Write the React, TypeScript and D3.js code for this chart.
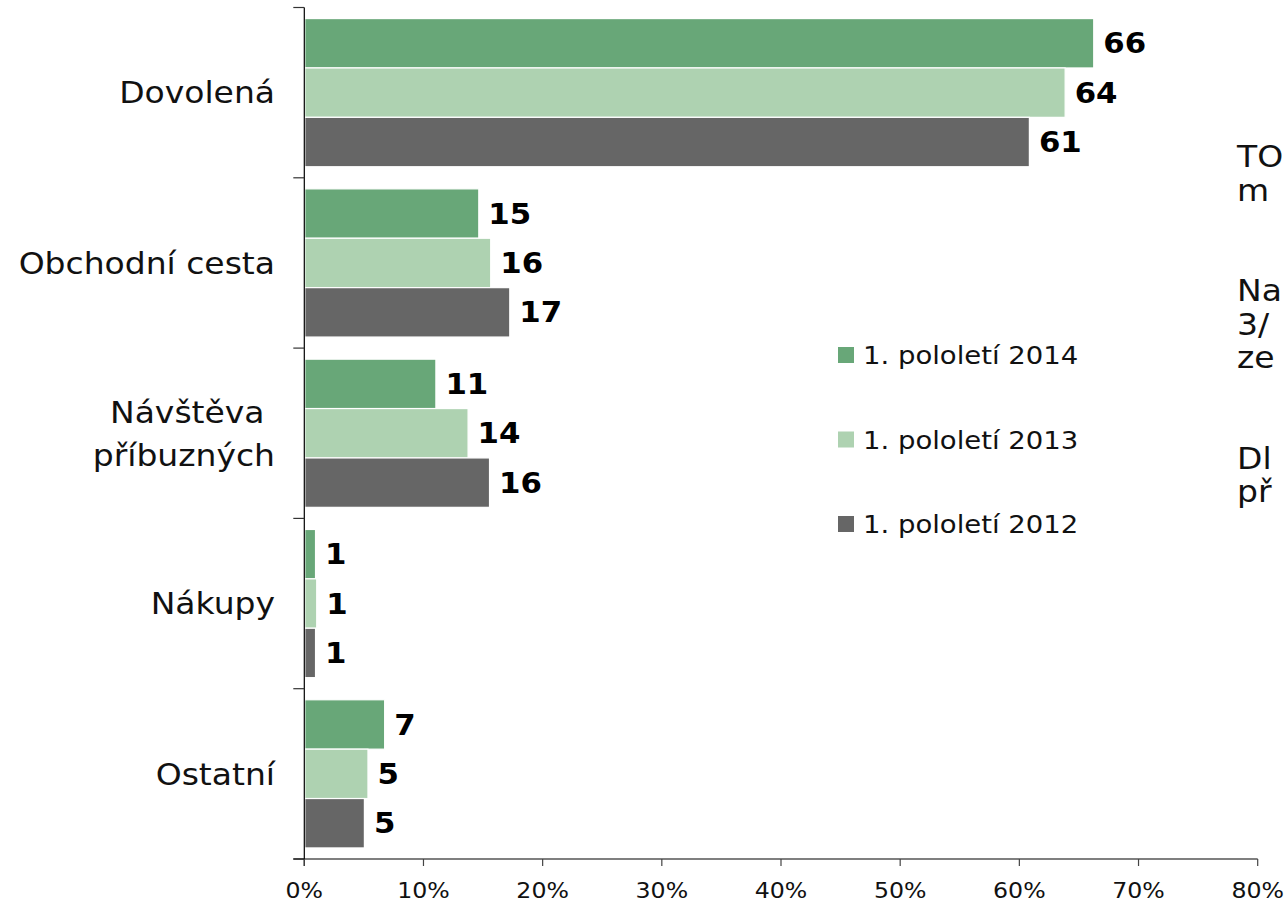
import React, { useRef, useEffect } from "react"
import * as d3 from "d3"

const categories = ["Dovolená", "Obchodní cesta", "Návštěva \npříbuzných", "Nákupy", "Ostatní"]
const series = ["1. pololetí 2014", "1. pololetí 2013", "1. pololetí 2012"]
const colors = ["#68a778", "#aed2b1", "#666666"]
// percent values per series, in category order
const values2014 = [66.2, 14.6, 11.0, 0.9, 6.7]
const values2013 = [63.8, 15.6, 13.7, 1.0, 5.3]
const values2012 = [60.8, 17.2, 15.5, 0.9, 5.0]
const xTicks = [0, 10, 20, 30, 40, 50, 60, 70, 80]
// side note, cut off at the right edge of the slide
const noteLines = ["TO", "m", "", "", "Na", "3/", "ze", "", "", "Dl", "př"]

// the slide text is a bit wider than DejaVu, so stretch it a little
const SX = 1.1

const App = () => {
    const ref = useRef<SVGSVGElement>(null)

    useEffect(() => {
        const svg = d3.select(ref.current)
        svg.selectAll("*").remove()
        const font = "'DejaVu Sans', Verdana, sans-serif"
        const allValues = [values2014, values2013, values2012]
        const at = (px: number, py: number) => `translate(${px},${py}) scale(${SX},1)`

        const x = d3.scaleLinear().domain([0, 80]).range([304.3, 1257.7])
        const y0 = d3.scaleBand().domain(categories).range([7.5, 859]).paddingInner(0.13).paddingOuter(0.065)
        const y1 = d3.scaleBand().domain(series).range([0, y0.bandwidth()])

        // bars
        const groups = svg.append("g")
            .selectAll("g")
            .data(categories)
            .join("g")
            .attr("transform", d => `translate(0,${y0(d)})`)

        groups.selectAll("rect")
            .data((d, i) => series.map((s, j) => ({ s, j, v: allValues[j][i] })))
            .join("rect")
            .attr("x", x(0) + 0.5)
            .attr("y", d => y1(d.s)!)
            .attr("width", d => x(d.v) - x(0))
            .attr("height", y1.bandwidth())
            .attr("fill", d => colors[d.j])
            .attr("stroke", "#fff")
            .attr("stroke-width", 1.2)

        groups.selectAll("text")
            .data((d, i) => series.map((s, j) => ({ s, j, v: allValues[j][i] })))
            .join("text")
            .attr("transform", d => at(x(d.v) + 10, y1(d.s)! + y1.bandwidth() / 2))
            .attr("dy", "0.36em")
            .attr("font-family", font)
            .attr("font-weight", "bold")
            .attr("font-size", 28)
            .text(d => d3.format(".0f")(d.v))

        // y axis
        const step = y0.step()
        svg.append("line")
            .attr("x1", x(0)).attr("x2", x(0))
            .attr("y1", 7.5).attr("y2", 866)
            .attr("stroke", "#000").attr("stroke-width", 1.2)
        svg.append("g")
            .selectAll("line")
            .data(d3.range(categories.length + 1))
            .join("line")
            .attr("x1", x(0) - 11).attr("x2", x(0))
            .attr("y1", i => 7.5 + i * step).attr("y2", i => 7.5 + i * step)
            .attr("stroke", "#333").attr("stroke-width", 1.2)

        // category labels
        svg.append("g")
            .selectAll("text")
            .data(categories)
            .join("text")
            .attr("text-anchor", "end")
            .attr("font-family", font)
            .attr("font-size", 30)
            .attr("fill", "#111")
            .attr("transform", d => at(275, y0(d)! + y0.bandwidth() / 2))
            .style("white-space", "pre")
            .each(function (d) {
                const lines = d.split("\n")
                const lh = 43
                d3.select(this).selectAll("tspan")
                    .data(lines)
                    .join("tspan")
                    .attr("x", 0)
                    .attr("y", (l, k) => (k - (lines.length - 1) / 2) * lh)
                    .attr("dy", "0.36em")
                    .text(l => l)
            })

        // x axis
        const xAxis = svg.append("g").attr("transform", "translate(0,859)")
        xAxis.append("line")
            .attr("x1", x(0) - 11).attr("x2", x(80))
            .attr("stroke", "#000").attr("stroke-width", 1.2)
        xAxis.selectAll("line.tick")
            .data(xTicks)
            .join("line")
            .attr("class", "tick")
            .attr("x1", d => x(d)).attr("x2", d => x(d))
            .attr("y1", 0).attr("y2", 7)
            .attr("stroke", "#444").attr("stroke-width", 1.2)
        xAxis.selectAll("text")
            .data(xTicks)
            .join("text")
            .attr("transform", d => at(x(d), 39))
            .attr("text-anchor", "middle")
            .attr("font-family", font)
            .attr("font-size", 21.5)
            .attr("fill", "#111")
            .text(d => d + "%")

        // legend
        const legend = svg.append("g")
            .selectAll("g")
            .data(series)
            .join("g")
            .attr("transform", (d, i) => `translate(838,${355 + i * 84.5})`)
        legend.append("rect")
            .attr("x", 0).attr("y", -8)
            .attr("width", 16).attr("height", 16)
            .attr("fill", (d, i) => colors[i])
        legend.append("text")
            .attr("transform", at(25, 0))
            .attr("dy", "0.36em")
            .attr("font-family", font)
            .attr("font-size", 25)
            .attr("fill", "#111")
            .text(d => d)

        // side note
        svg.append("g")
            .selectAll("text")
            .data(noteLines)
            .join("text")
            .attr("transform", (d, i) => at(1237, 167 + i * 33.5))
            .attr("font-family", font)
            .attr("font-size", 30)
            .attr("fill", "#111")
            .text(d => d)
    }, [])

    return (
        <svg ref={ref} width={1285} height={905}
            style={{ position: "absolute", left: 0, top: 0, background: "#fff" }} />
    )
}

export default App
